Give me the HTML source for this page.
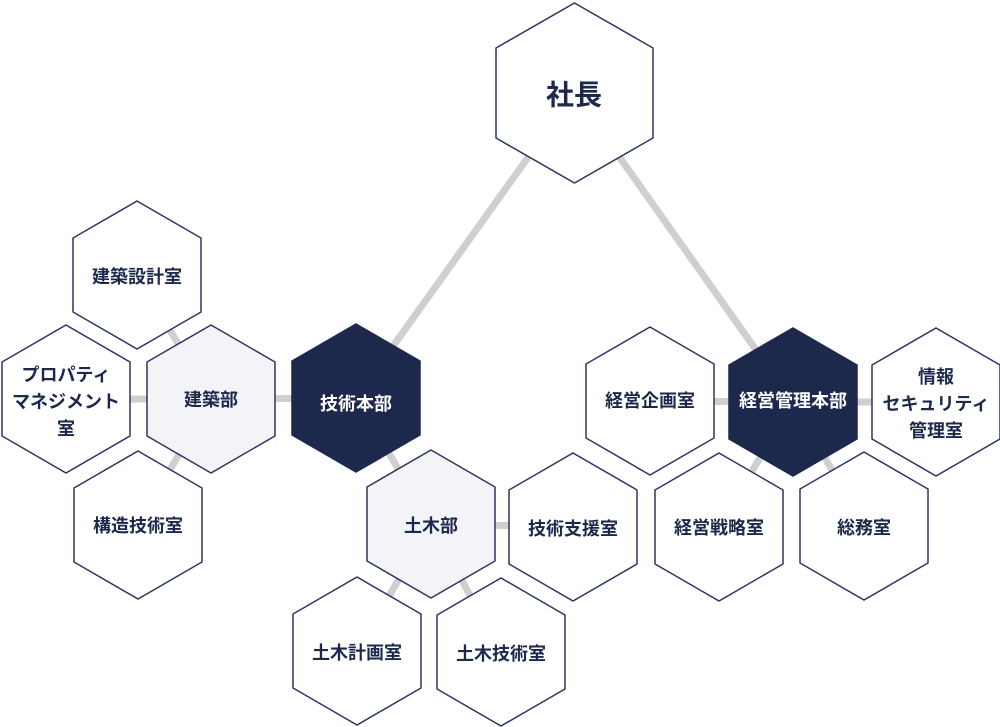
<!DOCTYPE html>
<html><head><meta charset="utf-8"><style>
html,body{margin:0;padding:0;background:#fff;}
svg{display:block}
text{font-family:"Liberation Sans","Noto Sans CJK JP",sans-serif;font-weight:bold;text-anchor:middle;dominant-baseline:central;}
</style></head><body>
<svg width="1000" height="727" viewBox="0 0 1000 727" xmlns="http://www.w3.org/2000/svg">
<defs>
<polygon id="h" points="0,-74 64,-37 64,37 0,74 -64,37 -64,-37"/>
</defs>
<g stroke="#cfcfcf" stroke-width="7" fill="none">
<line x1="574" y1="93" x2="356" y2="398"/>
<line x1="574" y1="93" x2="793" y2="402"/>
<line x1="137" y1="275" x2="211" y2="399"/>
<line x1="66" y1="399" x2="211" y2="399"/>
<line x1="138" y1="525" x2="211" y2="399"/>
<line x1="211" y1="399" x2="356" y2="398"/>
<line x1="356" y1="398" x2="431" y2="524"/>
<line x1="431" y1="524" x2="573" y2="527"/>
<line x1="431" y1="524" x2="357" y2="651"/>
<line x1="431" y1="524" x2="501" y2="652"/>
<line x1="650" y1="401" x2="793" y2="402"/>
<line x1="793" y1="402" x2="936" y2="402"/>
<line x1="793" y1="402" x2="719" y2="527"/>
<line x1="793" y1="402" x2="864" y2="526"/>
</g>
<g stroke="#2b3660" stroke-width="1.5">
<polygon points="574.5,3 653,48 653,138 574.5,183 496,138 496,48" fill="#fff"/>
<use href="#h" x="137" y="275" fill="#fff"/>
<use href="#h" x="66" y="399" fill="#fff"/>
<use href="#h" x="211" y="399" fill="#f3f3f8"/>
<use href="#h" x="356" y="398" fill="#1d284d" stroke="#1d284d"/>
<use href="#h" x="138" y="525" fill="#fff"/>
<use href="#h" x="431" y="524" fill="#f3f3f8"/>
<use href="#h" x="573" y="527" fill="#fff"/>
<use href="#h" x="357" y="651" fill="#fff"/>
<use href="#h" x="501" y="652" fill="#fff"/>
<use href="#h" x="650" y="401" fill="#fff"/>
<use href="#h" x="793" y="402" fill="#1d284d" stroke="#1d284d"/>
<use href="#h" x="936" y="402" fill="#fff"/>
<use href="#h" x="719" y="527" fill="#fff"/>
<use href="#h" x="864" y="526" fill="#fff"/>
</g>
<g fill="#1d284d" font-size="18">
<text x="574" y="95" font-size="28">社長</text>
<text x="137" y="277">建築設計室</text>
<text x="66" y="375">プロパティ</text>
<text x="66" y="402">マネジメント</text>
<text x="66" y="429">室</text>
<text x="211" y="400">建築部</text>
<text x="356" y="404" fill="#fff">技術本部</text>
<text x="138" y="526">構造技術室</text>
<text x="431" y="526">土木部</text>
<text x="573" y="529">技術支援室</text>
<text x="357" y="653">土木計画室</text>
<text x="501" y="654">土木技術室</text>
<text x="650" y="401">経営企画室</text>
<text x="793" y="401" fill="#fff">経営管理本部</text>
<text x="936" y="377">情報</text>
<text x="936" y="404">セキュリティ</text>
<text x="936" y="431">管理室</text>
<text x="719" y="528">経営戦略室</text>
<text x="864" y="528">総務室</text>
</g>
</svg>
</body></html>
